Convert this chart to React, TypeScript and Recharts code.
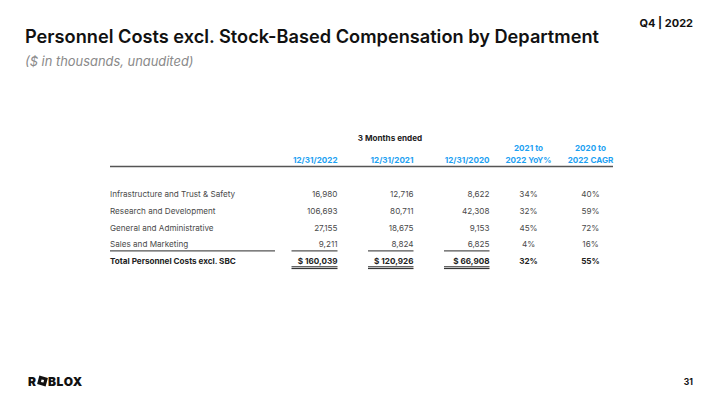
import React from "react";
import { Surface, Layer } from "recharts";

const departments = [
  "Infrastructure and Trust & Safety",
  "Research and Development",
  "General and Administrative",
  "Sales and Marketing",
];
const q4_2022 = [16980, 106693, 27155, 9211];
const q4_2021 = [12716, 80711, 18675, 8824];
const q4_2020 = [8622, 42308, 9153, 6825];
const yoyPct = [34, 32, 45, 4];
const cagrPct = [40, 59, 72, 16];

const totalLabel = "Total Personnel Costs excl. SBC";
const totals = [160039, 120926, 66908];
const totalYoy = 32;
const totalCagr = 55;

const dateHeaders = ["12/31/2022", "12/31/2021", "12/31/2020"];
const yoyHeader = ["2021 to", "2022 YoY%"];
const cagrHeader = ["2020 to", "2022 CAGR"];

const FONT = "Inter, 'Noto Sans', sans-serif";
const BLUE = "#1DA1F2";
const fmt = (v: number) => v.toLocaleString("en-US");

export default function App() {
  const W = 720;
  const H = 405;
  const labelX = 110;
  const colRight = [337.5, 413.5, 489.5];
  const colLeft = [291.5, 368, 444];
  const yoyC = 528.5;
  const cagrC = 590.5;
  const rowY0 = 194.2;
  const rowStep = 16.65;
  const fs = 8.15;
  const rows = departments.map((d, i) => ({
    label: d,
    vals: [q4_2022[i], q4_2021[i], q4_2020[i]],
    yoy: yoyPct[i],
    cagr: cagrPct[i],
  }));
  const totalY = rowY0 + rowStep * 4;

  return (
    <div style={{ width: W, height: H, margin: -8, background: "#fff" }}>
      <Surface width={W} height={H} viewBox={{ x: 0, y: 0, width: W, height: H }}>
        <rect x={0} y={0} width={W} height={H} fill="#fff" />
        <Layer>
          <text x={25} y={43} fontFamily={FONT} fontSize={18.2} fontWeight={600} fill="#111">
            Personnel Costs excl. Stock-Based Compensation by Department
          </text>
          <text x={25} y={66} fontFamily={FONT} fontSize={12.9} fontStyle="italic" fill="#8a8a8a">
            ($ in thousands, unaudited)
          </text>
          <text x={693} y={27} textAnchor="end" fontFamily={FONT} fontSize={11} fontWeight={700} fill="#111">
            Q4 | 2022
          </text>
        </Layer>
        <Layer>
          <text x={390} y={140.5} textAnchor="middle" fontFamily={FONT} fontSize={fs} fontWeight={700} fill="#222">
            3 Months ended
          </text>
          {dateHeaders.map((h, i) => (
            <text key={h} x={colRight[i]} y={163} textAnchor="end" fontFamily={FONT} fontSize={fs} fontWeight={700} fill={BLUE}>
              {h}
            </text>
          ))}
          {yoyHeader.map((h, i) => (
            <text key={h} x={yoyC} y={151 + i * 12} textAnchor="middle" fontFamily={FONT} fontSize={fs} fontWeight={700} fill={BLUE}>
              {h}
            </text>
          ))}
          {cagrHeader.map((h, i) => (
            <text key={h} x={cagrC} y={151 + i * 12} textAnchor="middle" fontFamily={FONT} fontSize={fs} fontWeight={700} fill={BLUE}>
              {h}
            </text>
          ))}
          <line x1={110} x2={613} y1={166.5} y2={166.5} stroke="#555" strokeWidth={1.5} />
        </Layer>
        <Layer>
          {rows.map((r, i) => {
            const y = rowY0 + rowStep * i + 3;
            return (
              <g key={r.label}>
                <text x={labelX} y={y} fontFamily={FONT} fontSize={fs} fill="#4a4a4a">
                  {r.label}
                </text>
                {r.vals.map((v, j) => (
                  <text key={j} x={colRight[j]} y={y} textAnchor="end" fontFamily={FONT} fontSize={fs} fill="#4a4a4a">
                    {fmt(v)}
                  </text>
                ))}
                <text x={yoyC} y={y} textAnchor="middle" fontFamily={FONT} fontSize={fs} fill="#4a4a4a">
                  {r.yoy}%
                </text>
                <text x={cagrC} y={y} textAnchor="middle" fontFamily={FONT} fontSize={fs} fill="#4a4a4a">
                  {r.cagr}%
                </text>
              </g>
            );
          })}
          <line x1={110} x2={275} y1={250.8} y2={250.8} stroke="#555" strokeWidth={1.2} />
          {colLeft.map((l, j) => (
            <line key={j} x1={l} x2={colRight[j]} y1={250.8} y2={250.8} stroke="#555" strokeWidth={1.2} />
          ))}
          <text x={labelX} y={totalY + 3} fontFamily={FONT} fontSize={fs} fontWeight={700} fill="#222">
            {totalLabel}
          </text>
          {totals.map((v, j) => (
            <text key={j} x={colRight[j]} y={totalY + 3} textAnchor="end" fontFamily={FONT} fontSize={fs} fontWeight={700} fill="#222">
              {"$ " + fmt(v)}
            </text>
          ))}
          <text x={yoyC} y={totalY + 3} textAnchor="middle" fontFamily={FONT} fontSize={fs} fontWeight={700} fill="#222">
            {totalYoy}%
          </text>
          <text x={cagrC} y={totalY + 3} textAnchor="middle" fontFamily={FONT} fontSize={fs} fontWeight={700} fill="#222">
            {totalCagr}%
          </text>
          {colLeft.map((l, j) => (
            <g key={j}>
              <line x1={l} x2={colRight[j]} y1={266.8} y2={266.8} stroke="#222" strokeWidth={1} />
              <line x1={l} x2={colRight[j]} y1={268.6} y2={268.6} stroke="#222" strokeWidth={1} />
            </g>
          ))}
        </Layer>
        <Layer>
          <text x={28} y={385.5} fontFamily={FONT} fontSize={12} fontWeight={900} fill="#111">
            R
          </text>
          <g transform="translate(42.5,381) rotate(15)">
            <rect x={-4.4} y={-4.4} width={8.8} height={8.8} fill="#111" />
            <rect x={-1.3} y={-1.3} width={2.6} height={2.6} fill="#fff" />
          </g>
          <text x={48} y={385.5} fontFamily={FONT} fontSize={12} fontWeight={900} letterSpacing={0.6} fill="#111">
            BLOX
          </text>
          <text x={693} y={385} textAnchor="end" fontFamily={FONT} fontSize={8.5} fontWeight={700} fill="#111">
            31
          </text>
        </Layer>
      </Surface>
    </div>
  );
}
